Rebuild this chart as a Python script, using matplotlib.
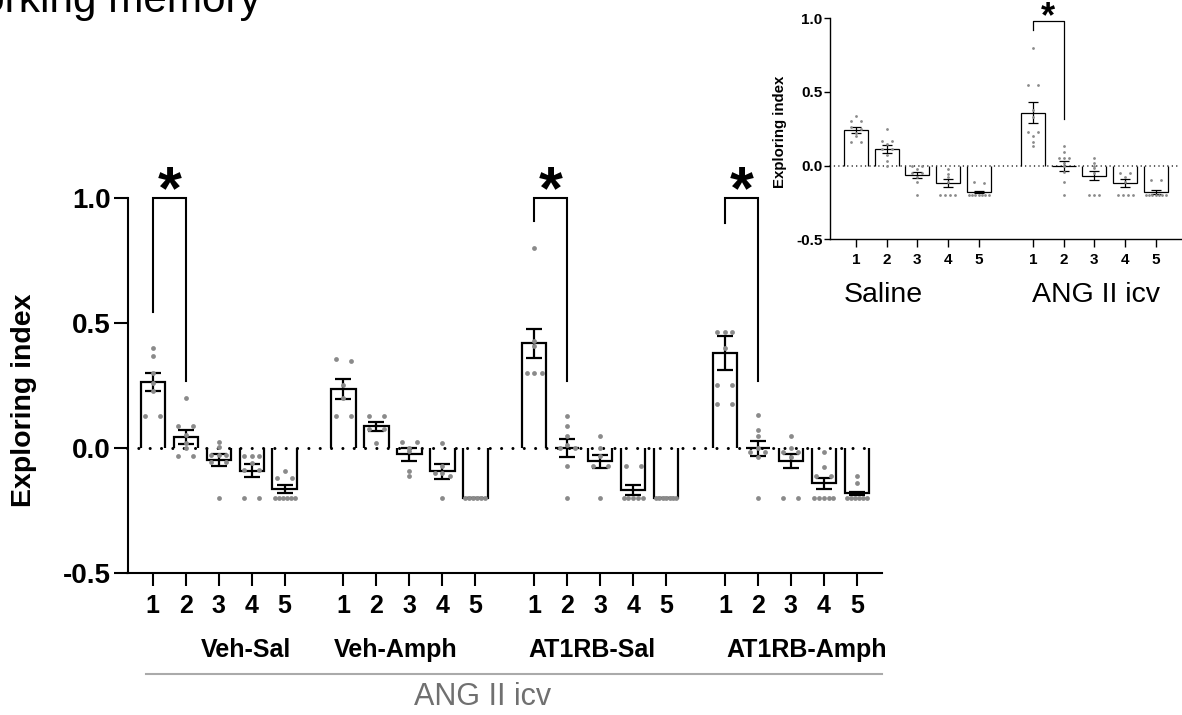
import numpy as np
import matplotlib
matplotlib.use("Agg")
import matplotlib.pyplot as plt

plt.rcParams['font.family'] = ['Liberation Sans', 'DejaVu Sans']

# ---------------- data: main panel ----------------
groups = ["Veh-Sal", "Veh-Amph", "AT1RB-Sal", "AT1RB-Amph"]
trial_labels = ["1", "2", "3", "4", "5"]

veh_sal_mean = [0.265, 0.045, -0.048, -0.090, -0.163]
veh_amph_mean = [0.235, 0.087, -0.025, -0.093, -0.200]
at1rb_sal_mean = [0.420, 0.000, -0.053, -0.167, -0.200]
at1rb_amph_mean = [0.381, 0.000, -0.050, -0.141, -0.181]

veh_sal_sem = [0.036, 0.028, 0.023, 0.025, 0.015]
veh_amph_sem = [0.040, 0.017, 0.025, 0.029, 0.0]
at1rb_sal_sem = [0.058, 0.037, 0.027, 0.020, 0.0]
at1rb_amph_sem = [0.067, 0.030, 0.028, 0.023, 0.007]

veh_sal_pts = [
    [0.40, 0.37, 0.30, 0.26, 0.23, 0.13, 0.13],
    [0.20, 0.087, 0.087, 0.053, 0.02, 0.0, -0.033, -0.033],
    [0.023, 0.003, -0.027, -0.027, -0.027, -0.056, -0.056, -0.20],
    [-0.03, -0.03, -0.03, -0.06, -0.087, -0.087, -0.20, -0.20],
    [-0.09, -0.12, -0.12, -0.20, -0.20, -0.20, -0.20, -0.20, -0.20],
]
veh_amph_pts = [
    [0.356, 0.347, 0.253, 0.20, 0.13, 0.13],
    [0.13, 0.13, 0.076, 0.076, 0.02],
    [0.023, 0.023, 0.0, -0.013, -0.09, -0.11],
    [0.02, -0.07, -0.10, -0.10, -0.11, -0.20],
    [-0.20, -0.20, -0.20, -0.20, -0.20, -0.20],
]
at1rb_sal_pts = [
    [0.80, 0.43, 0.41, 0.30, 0.30, 0.30],
    [0.13, 0.087, 0.05, 0.013, 0.0, 0.0, -0.073, -0.20],
    [0.05, 0.0, -0.033, -0.073, -0.073, -0.20],
    [-0.073, -0.073, -0.20, -0.20, -0.20, -0.20, -0.20],
    [-0.20, -0.20, -0.20, -0.20, -0.20, -0.20, -0.20],
]
at1rb_amph_pts = [
    [0.465, 0.465, 0.465, 0.40, 0.252, 0.252, 0.175, 0.175],
    [0.132, 0.072, 0.049, 0.0, -0.015, -0.015, -0.035, -0.20],
    [0.049, 0.0, -0.015, -0.015, -0.035, -0.20, -0.20],
    [-0.015, -0.075, -0.111, -0.111, -0.20, -0.20, -0.20, -0.20, -0.20],
    [-0.111, -0.139, -0.20, -0.20, -0.20, -0.20, -0.20, -0.20],
]

# significance brackets (main): one per marked group, between trial 1 and 2
sig_groups = [0, 2, 3]
sig_top = [1.0, 1.0, 1.0]
sig_left_end = [0.545, 0.908, 0.90]
sig_right_end = [0.27, 0.27, 0.27]

# ---------------- data: inset ----------------
inset_groups = ["Saline", "ANG II icv"]
saline_mean = [0.242, 0.113, -0.063, -0.120, -0.181]
angii_mean = [0.360, 0.000, -0.068, -0.120, -0.180]
saline_sem = [0.023, 0.026, 0.023, 0.027, 0.007]
angii_sem = [0.069, 0.034, 0.031, 0.027, 0.014]
saline_pts = [
    [0.34, 0.30, 0.30, 0.26, 0.25, 0.22, 0.20, 0.16, 0.16],
    [0.25, 0.17, 0.17, 0.15, 0.11, 0.11, 0.07, 0.03, 0.0],
    [0.0, 0.0, -0.02, -0.05, -0.05, -0.075, -0.11, -0.20],
    [-0.02, -0.057, -0.075, -0.11, -0.20, -0.20, -0.20, -0.20],
    [-0.11, -0.12, -0.20, -0.20, -0.20, -0.20, -0.20, -0.20, -0.20],
]
angii_pts = [
    [0.80, 0.55, 0.55, 0.38, 0.33, 0.23, 0.23, 0.20, 0.16, 0.13],
    [0.133, 0.09, 0.05, 0.05, 0.05, 0.016, 0.0, -0.04, -0.11, -0.20],
    [0.05, 0.016, 0.0, -0.018, -0.05, -0.20, -0.20, -0.20],
    [-0.05, -0.05, -0.075, -0.11, -0.20, -0.20, -0.20, -0.20],
    [-0.10, -0.10, -0.20, -0.20, -0.20, -0.20, -0.20, -0.20, -0.20],
]
inset_sig_top = 0.982
inset_sig_left_end = 0.92
inset_sig_right_end = 0.317

# ---------------- layout ----------------
W, H = 1182, 715
GROUP_STEP = 5.78
POINT_COLOR = '#8a8a8a'


def fx(px):
    return px / W


def fy(py):
    return 1 - py / H


def swarm(vals, center, spacing, width, tol):
    vals = np.asarray(vals, float)
    xs = np.empty(len(vals))
    order = np.argsort(-vals, kind='stable')
    clusters = []
    for idx in order:
        if clusters and abs(vals[idx] - vals[clusters[-1][0]]) <= tol:
            clusters[-1].append(idx)
        else:
            clusters.append([idx])
    for cl in clusters:
        n = len(cl)
        if n == 2:
            offs = np.array([-spacing, spacing])
        else:
            s = min(spacing, width / n)
            offs = (np.arange(n) - (n - 1) / 2) * s
        for k, idx in enumerate(cl):
            xs[idx] = center + offs[k]
    return xs


def draw_bars(ax, xs, means, sems, pts, width, lw, capsize, spacing, ms):
    ax.bar(xs, means, width, color='white', edgecolor='none', zorder=2)
    for x, m in zip(xs, means):
        l, r = x - width / 2, x + width / 2
        ax.plot([l, l, r, r], [0, m, m, 0], color='black', lw=lw, zorder=3,
                solid_joinstyle='miter', solid_capstyle='butt')
    ax.errorbar(xs, means, yerr=sems, fmt='none', ecolor='black',
                elinewidth=lw, capsize=capsize, capthick=lw, zorder=5)
    for x, p in zip(xs, pts):
        px = swarm(p, x, spacing, width * 0.98, 0.012)
        ax.scatter(px, p, s=ms, color=POINT_COLOR, linewidths=0, zorder=6)


fig = plt.figure(figsize=(W / 100, H / 100), dpi=100)

# ---------------- main axes ----------------
ax = fig.add_axes([fx(127.5), fy(573), fx(882) - fx(127.5), fy(198) - fy(573)])
main_means = [veh_sal_mean, veh_amph_mean, at1rb_sal_mean, at1rb_amph_mean]
main_sems = [veh_sal_sem, veh_amph_sem, at1rb_sal_sem, at1rb_amph_sem]
main_pts = [veh_sal_pts, veh_amph_pts, at1rb_sal_pts, at1rb_amph_pts]

xs_all, means_all, sems_all, pts_all = [], [], [], []
for g in range(len(groups)):
    for i in range(len(trial_labels)):
        xs_all.append(g * GROUP_STEP + i)
        means_all.append(main_means[g][i])
        sems_all.append(main_sems[g][i])
        pts_all.append(main_pts[g][i])

x_left, x_right = -0.764, 22.1
ax.set_xlim(x_left, x_right)
ax.set_ylim(-0.5, 1.0)

draw_bars(ax, xs_all, means_all, sems_all, pts_all, width=0.74, lw=1.6,
          capsize=5.5, spacing=0.227, ms=12)

ax.plot([x_left, 21.8], [0, 0], color='black', lw=2.2,
        linestyle=(0, (0.01, 3.7)), dash_capstyle='round', zorder=4,
        clip_on=False)

for spine in ['top', 'right']:
    ax.spines[spine].set_visible(False)
for spine in ['left', 'bottom']:
    ax.spines[spine].set_linewidth(1.5)

ax.set_xticks(xs_all)
ax.set_xticklabels(trial_labels * len(groups), fontsize=18, fontweight='bold')
ax.set_yticks([-0.5, 0.0, 0.5, 1.0])
ax.set_yticklabels(["-0.5", "0.0", "0.5", "1.0"], fontsize=20, fontweight='bold')
ax.tick_params(axis='x', direction='out', length=9, width=1.5, pad=6)
ax.tick_params(axis='y', direction='out', length=10, width=1.5, pad=2)

# significance brackets
for g, top, le, re in zip(sig_groups, sig_top, sig_left_end, sig_right_end):
    x1 = g * GROUP_STEP
    x2 = x1 + 1
    ax.plot([x1, x1, x2, x2], [le, top, top, re], color='black', lw=1.5,
            zorder=4, clip_on=False, solid_joinstyle='miter')
    ax.text((x1 + x2) / 2, top - 0.04, '*', ha='center', va='baseline',
            fontsize=44, fontweight='bold', clip_on=False)

# group labels
group_label_px = [246, 396, 592, 806.7]
for name, px in zip(groups, group_label_px):
    fig.text(fx(px), fy(650), name, ha='center', va='center', fontsize=18,
             fontweight='bold')

fig.add_artist(plt.Line2D([fx(146), fx(882)], [fy(674), fy(674)],
                          color='#aaaaaa', lw=1.5))
fig.text(fx(483), fy(697), "ANG II icv", ha='center', va='center',
         fontsize=22, color='#707070')

fig.text(fx(24), fy(400), "Exploring index", rotation=90, ha='center',
         va='center', fontsize=20.5, fontweight='bold')

fig.text(fx(-58), fy(12), "Working memory", ha='left', va='baseline',
         fontsize=30.4)

# ---------------- inset ----------------
ax2 = fig.add_axes([fx(830), fy(239.3), fx(1182) - fx(830), fy(18.3) - fy(239.3)])
in_means = [saline_mean, angii_mean]
in_sems = [saline_sem, angii_sem]
in_pts = [saline_pts, angii_pts]
ixs, im, isem, ipts = [], [], [], []
for g in range(len(inset_groups)):
    for i in range(len(trial_labels)):
        ixs.append(g * GROUP_STEP + i)
        im.append(in_means[g][i])
        isem.append(in_sems[g][i])
        ipts.append(in_pts[g][i])

ax2.set_xlim(-0.85, 10.64)
ax2.set_ylim(-0.5, 1.0)
draw_bars(ax2, ixs, im, isem, ipts, width=0.78, lw=0.9, capsize=3.8,
          spacing=0.163, ms=4)
ax2.plot([-0.85, 10.5], [0, 0], color='black', lw=1.1,
         linestyle=(0, (0.01, 2.9)), dash_capstyle='round', zorder=4,
         clip_on=False)
for spine in ['top', 'right']:
    ax2.spines[spine].set_visible(False)
for spine in ['left', 'bottom']:
    ax2.spines[spine].set_linewidth(1.0)
ax2.set_xticks(ixs)
ax2.set_xticklabels(trial_labels * len(inset_groups), fontsize=11,
                    fontweight='bold')
ax2.set_yticks([-0.5, 0.0, 0.5, 1.0])
ax2.set_yticklabels(["-0.5", "0.0", "0.5", "1.0"], fontsize=11,
                    fontweight='bold')
ax2.tick_params(axis='x', direction='out', length=5.5, width=1.0, pad=4.5)
ax2.tick_params(axis='y', direction='out', length=4.5, width=1.0, pad=1)

x1 = GROUP_STEP
x2 = x1 + 1
ax2.plot([x1, x1, x2, x2],
         [inset_sig_left_end, inset_sig_top, inset_sig_top, inset_sig_right_end],
         color='black', lw=0.9, zorder=4, clip_on=False)
ax2.text((x1 + x2) / 2, inset_sig_top - 0.045, '*', ha='center', va='baseline',
         fontsize=26, fontweight='bold', clip_on=False)

inset_label_px = [883.5, 1096.5]
for name, px in zip(inset_groups, inset_label_px):
    fig.text(fx(px), fy(295), name, ha='center', va='center', fontsize=20.5)

fig.text(fx(780), fy(131.7), "Exploring index", rotation=90, ha='center',
         va='center', fontsize=10.8, fontweight='bold')

fig.savefig("out.png", dpi=100)
